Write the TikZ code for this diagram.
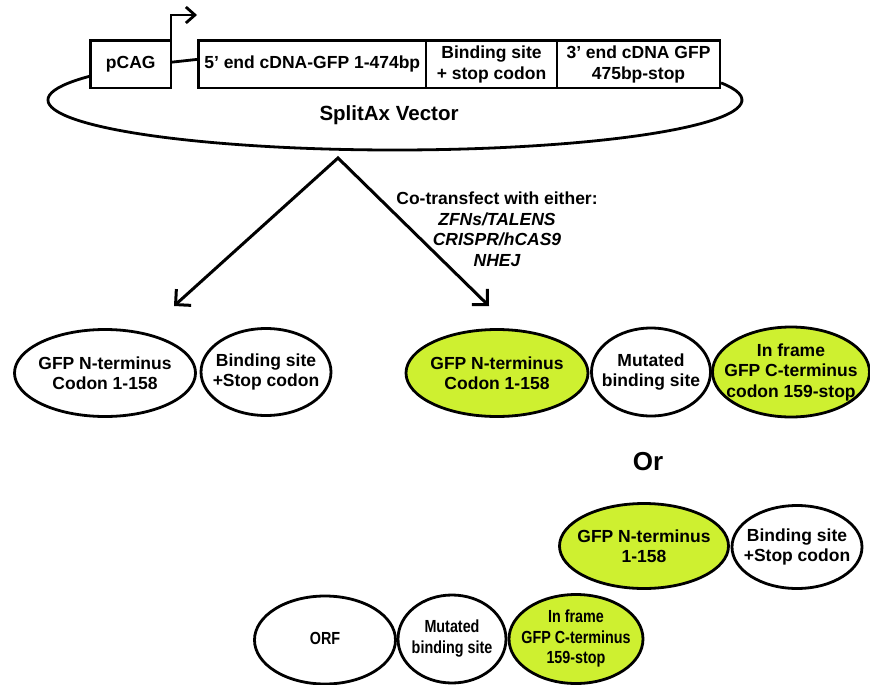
\documentclass[tikz,border=0pt]{standalone}
\usepackage{fontspec}
\setmainfont{Liberation Sans}
\usepackage{graphicx}
\usetikzlibrary{arrows.meta, shapes.geometric}
\definecolor{gfpgreen}{RGB}{206,240,48}
\newcommand{\narrowtext}[1]{\scalebox{0.82}[1]{\begin{tabular}{@{}c@{}}#1\end{tabular}}}

\begin{document}
\begin{tikzpicture}[x=1pt, y=1pt,
  every node/.style={font=\fontsize{17.5}{20.5}\selectfont\bfseries, align=center},
  part/.style={draw, line width=2.8pt, rectangle, fill=white, minimum height=47.5pt, inner sep=0pt, outer sep=0pt},
  bead/.style={draw, line width=2.8pt, ellipse, fill=white, inner sep=-30pt},
  gfp/.style={bead, fill=gfpgreen},
  split/.style={{Straight Barb[length=11pt, width=22pt]}-{Straight Barb[length=11pt, width=22pt]}, line width=3pt}]
\useasboundingbox (0,0) rectangle (870,-685);

\coordinate (vc) at (395,-100);
\draw[line width=2.8pt] (vc) ++(151.5:347 and 50) arc[start angle=151.5, end angle=380, x radius=347, y radius=50];

\node[part, minimum width=80.5pt] (pcag) at (130.75,-64.25) {pCAG};
\node[part, minimum width=227.5pt] (seg1) at (312.25,-64.25) {5' end cDNA-GFP 1-474bp};
\node[part, minimum width=131pt] (seg2) at (491.5,-64.25) {Binding site\\+ stop codon};
\node[part, minimum width=163pt] (seg3) at (638.5,-64.25) {3' end cDNA GFP\\475bp-stop};
\node[font=\fontsize{20.5}{24}\selectfont\bfseries] (vlabel) at (389,-115) {SplitAx Vector};

\coordinate (tss) at (197,-15);
\draw[line width=2.8pt, -{Straight Barb[length=9pt, width=16pt]}] (pcag.north east) |- (tss);
\draw[line width=2.8pt] ([yshift=2pt]pcag.east) -- ([yshift=5pt]seg1.west);

\coordinate (fork) at (338,-158);
\coordinate (tipL) at (174,-306);
\coordinate (tipR) at (489,-306);
\draw[split] (tipL) -- (fork) -- (tipR);
\node (cotx) at (497,-229) {Co-transfect with either:\\{\itshape ZFNs/TALENS}\\{\itshape CRISPR/hCAS9}\\{\itshape NHEJ}};

\node[bead, minimum width=181pt, minimum height=87pt] (nL) at (105,-373) {GFP N-terminus\\Codon 1-158};
\node[bead, minimum width=130pt, minimum height=87pt] (bL) at (266,-372) {Binding site\\+Stop codon};

\node[gfp, minimum width=182pt, minimum height=87pt] (nR) at (497,-373) {GFP N-terminus\\Codon 1-158};
\node[bead, minimum width=119pt, minimum height=88pt] (mR) at (651,-372) {Mutated\\binding site};
\node[gfp, minimum width=157pt, minimum height=90pt] (cR) at (791,-372) {In frame\\GFP C-terminus\\codon 159-stop};

\node[font=\fontsize{26}{30}\selectfont\bfseries] (or) at (648,-462) {Or};

\node[gfp, minimum width=169pt, minimum height=85pt] (nB) at (644,-546) {GFP N-terminus\\1-158};
\node[bead, minimum width=130pt, minimum height=83pt] (bB) at (797,-547) {Binding site\\+Stop codon};

\node[bead, minimum width=141pt, minimum height=88pt] (orf) at (325,-640) {\narrowtext{ORF}};
\node[bead, minimum width=108pt, minimum height=88pt] (mB) at (452,-639) {\narrowtext{Mutated\\binding site}};
\node[gfp, minimum width=134pt, minimum height=89pt] (cB) at (576,-639) {\narrowtext{In frame\\GFP C-terminus\\159-stop}};
\end{tikzpicture}
\end{document}
